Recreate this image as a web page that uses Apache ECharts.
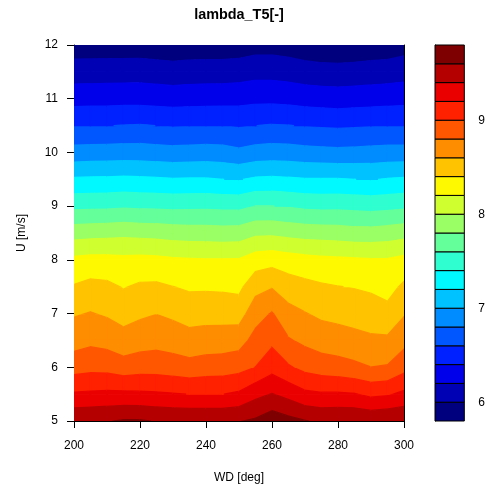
<!DOCTYPE html>
<html>
<head>
<meta charset="utf-8">
<title>lambda_T5[-]</title>
<script src="https://cdn.jsdelivr.net/npm/echarts@6/dist/echarts.min.js"></script>
<style>
  html, body { margin: 0; padding: 0; background: #ffffff; }
  #chart { width: 488px; height: 491px; }
</style>
</head>
<body>
<div id="chart"></div>
<script>
// Grid of wind directions (deg) and wind speeds (m/s)
const wdGrid = [200, 205, 210, 215, 220, 225, 230, 235, 240, 245, 250,
                255, 260, 265, 270, 275, 280, 285, 290, 295, 300];
const uGrid = [5, 5.5, 6, 6.5, 7, 7.5, 8, 8.5, 9, 9.5, 10, 10.5, 11, 11.5, 12];

// lambda_T5 at each wind speed, one value per wind direction in wdGrid
const lambda_U05_0 = [9.57, 9.58, 9.59, 9.62, 9.62, 9.59, 9.58, 9.58, 9.58, 9.58, 9.59, 9.63, 9.72, 9.66, 9.61, 9.57, 9.58, 9.58, 9.56, 9.58, 9.59];
const lambda_U05_5 = [9.225, 9.234, 9.244, 9.244, 9.236, 9.227, 9.212, 9.197, 9.197, 9.197, 9.232, 9.344, 9.409, 9.337, 9.244, 9.223, 9.225, 9.212, 9.155, 9.178, 9.244];
const lambda_U06_0 = [8.915, 8.942, 8.933, 8.887, 8.915, 8.915, 8.895, 8.870, 8.895, 8.903, 8.930, 9.003, 9.128, 9.023, 8.943, 8.901, 8.877, 8.844, 8.802, 8.817, 8.932];
const lambda_U06_5 = [8.721, 8.757, 8.731, 8.676, 8.713, 8.734, 8.709, 8.674, 8.691, 8.697, 8.718, 8.869, 8.955, 8.818, 8.758, 8.709, 8.688, 8.661, 8.633, 8.635, 8.738];
const lambda_U07_0 = [8.581, 8.610, 8.577, 8.525, 8.567, 8.596, 8.562, 8.520, 8.527, 8.524, 8.515, 8.717, 8.814, 8.664, 8.609, 8.562, 8.542, 8.521, 8.501, 8.462, 8.582];
const lambda_U07_5 = [8.415, 8.457, 8.442, 8.388, 8.429, 8.434, 8.402, 8.371, 8.374, 8.368, 8.352, 8.534, 8.585, 8.499, 8.457, 8.425, 8.405, 8.390, 8.368, 8.327, 8.436];
const lambda_U08_0 = [8.243, 8.262, 8.262, 8.247, 8.256, 8.248, 8.227, 8.218, 8.213, 8.213, 8.215, 8.299, 8.326, 8.291, 8.266, 8.246, 8.236, 8.226, 8.216, 8.215, 8.255];
const lambda_U08_5 = [7.914, 7.926, 7.935, 7.947, 7.935, 7.926, 7.909, 7.898, 7.895, 7.888, 7.893, 7.958, 7.961, 7.935, 7.914, 7.907, 7.898, 7.879, 7.879, 7.898, 7.926];
const lambda_U09_0 = [7.551, 7.555, 7.560, 7.572, 7.563, 7.560, 7.551, 7.555, 7.560, 7.551, 7.548, 7.603, 7.603, 7.584, 7.558, 7.548, 7.551, 7.541, 7.529, 7.541, 7.560];
const lambda_U09_5 = [7.224, 7.231, 7.233, 7.240, 7.233, 7.225, 7.213, 7.217, 7.217, 7.201, 7.191, 7.228, 7.237, 7.226, 7.213, 7.212, 7.213, 7.201, 7.191, 7.212, 7.225];
const lambda_U10_0 = [6.876, 6.883, 6.887, 6.893, 6.893, 6.881, 6.872, 6.877, 6.886, 6.877, 6.843, 6.881, 6.893, 6.886, 6.869, 6.859, 6.851, 6.857, 6.867, 6.877, 6.877];
const lambda_U10_5 = [6.595, 6.596, 6.596, 6.606, 6.613, 6.599, 6.585, 6.592, 6.599, 6.599, 6.580, 6.599, 6.613, 6.606, 6.588, 6.578, 6.570, 6.578, 6.588, 6.596, 6.599];
const lambda_U11_0 = [6.320, 6.324, 6.326, 6.332, 6.329, 6.320, 6.313, 6.318, 6.322, 6.323, 6.332, 6.348, 6.348, 6.337, 6.318, 6.308, 6.299, 6.308, 6.315, 6.324, 6.333];
const lambda_U11_5 = [6.100, 6.102, 6.106, 6.106, 6.111, 6.098, 6.084, 6.095, 6.101, 6.102, 6.111, 6.132, 6.132, 6.115, 6.090, 6.075, 6.070, 6.077, 6.090, 6.101, 6.119];
const lambda_U12_0 = [5.890, 5.890, 5.890, 5.890, 5.890, 5.880, 5.870, 5.880, 5.880, 5.880, 5.890, 5.922, 5.922, 5.903, 5.874, 5.856, 5.850, 5.860, 5.875, 5.880, 5.918];

const lambdaRows = [lambda_U05_0, lambda_U05_5, lambda_U06_0, lambda_U06_5, lambda_U07_0,
                    lambda_U07_5, lambda_U08_0, lambda_U08_5, lambda_U09_0, lambda_U09_5,
                    lambda_U10_0, lambda_U10_5, lambda_U11_0, lambda_U11_5, lambda_U12_0];

// Contour levels and the fill colour of each band between them
const levels = [5.8, 6.0, 6.2, 6.4, 6.6, 6.8, 7.0, 7.2, 7.4, 7.6, 7.8,
                8.0, 8.2, 8.4, 8.6, 8.8, 9.0, 9.2, 9.4, 9.6, 9.8];
const bandColors = ['#00007F', '#0000B5', '#0000EB', '#0021FF', '#0057FF',
                    '#008CFF', '#00C2FF', '#00F8FF', '#2FFFD0', '#64FF9A',
                    '#9AFF64', '#D0FF2F', '#FFF900', '#FFC300', '#FF8D00',
                    '#FF5700', '#FF2100', '#EB0000', '#B50000', '#7F0000'];
const colorbarTicks = [6, 7, 8, 9];

const FONT = '"Liberation Sans", Arial, Helvetica, sans-serif';

// One item per grid cell: its corners and the four corner values
const cells = [];
for (let j = 0; j < uGrid.length - 1; j++) {
  for (let i = 0; i < wdGrid.length - 1; i++) {
    cells.push([wdGrid[i], uGrid[j], wdGrid[i + 1], uGrid[j + 1],
                lambdaRows[j][i], lambdaRows[j][i + 1],
                lambdaRows[j + 1][i + 1], lambdaRows[j + 1][i]]);
  }
}

// Clip a polygon (with values linear along its edges) to v >= level or v <= level
function clipPoly(poly, level, keepAbove) {
  const out = [];
  const n = poly.length;
  for (let k = 0; k < n; k++) {
    const a = poly[k], b = poly[(k + 1) % n];
    const ina = keepAbove ? a.v >= level : a.v <= level;
    const inb = keepAbove ? b.v >= level : b.v <= level;
    if (ina) out.push(a);
    if (ina !== inb) {
      const t = (level - a.v) / (b.v - a.v);
      out.push({ x: a.x + t * (b.x - a.x), y: a.y + t * (b.y - a.y), v: level });
    }
  }
  return out;
}

function renderCell(params, api) {
  const x0 = api.value(0), y0 = api.value(1), x1 = api.value(2), y1 = api.value(3);
  const quad = [
    { x: x0, y: y0, v: api.value(4) },
    { x: x1, y: y0, v: api.value(5) },
    { x: x1, y: y1, v: api.value(6) },
    { x: x0, y: y1, v: api.value(7) }
  ];
  const children = [];
  for (let k = 0; k < bandColors.length; k++) {
    let poly = clipPoly(quad, levels[k], true);
    if (poly.length < 3) continue;
    poly = clipPoly(poly, levels[k + 1], false);
    if (poly.length < 3) continue;
    const pts = poly.map(p => api.coord([p.x, p.y]));
    children.push({
      type: 'polygon',
      shape: { points: pts },
      style: { fill: bandColors[k], stroke: bandColors[k], lineWidth: 1.2 }
    });
  }
  return { type: 'group', children: children };
}

function renderBand(params, api) {
  const lo = api.value(0), hi = api.value(1);
  const p0 = api.coord([0, lo]);
  const p1 = api.coord([1, hi]);
  return {
    type: 'rect',
    shape: { x: p0[0], y: p1[1], width: p1[0] - p0[0], height: p0[1] - p1[1] },
    style: { fill: bandColors[params.dataIndex], stroke: '#000000', lineWidth: 1 }
  };
}

const chart = echarts.init(document.getElementById('chart'), null, { renderer: 'canvas' });

const axisText = { color: '#000000', fontFamily: FONT, fontSize: 12 };

chart.setOption({
  backgroundColor: '#ffffff',
  animation: false,
  textStyle: { fontFamily: FONT },
  grid: [
    { left: 74, top: 45, width: 330, height: 376, show: false },
    { left: 435, top: 45, width: 31, height: 376, show: false }
  ],
  graphic: [
    { type: 'text', x: 239, y: 15, z: 10,
      style: { text: 'lambda_T5[-]', font: 'bold 14.4px ' + FONT, fill: '#000000',
               textAlign: 'center', textVerticalAlign: 'middle' } }
  ],
  xAxis: [
    { gridIndex: 0, type: 'value', min: 200, max: 300, interval: 20,
      name: 'WD [deg]', nameLocation: 'middle', nameGap: 51,
      nameTextStyle: axisText,
      axisLine: { show: true, lineStyle: { color: '#000000', width: 1 } },
      axisTick: { show: true, length: 7, lineStyle: { color: '#000000' } },
      axisLabel: Object.assign({ margin: 19 }, axisText),
      splitLine: { show: false } },
    { gridIndex: 0, type: 'value', min: 200, max: 300, position: 'top',
      axisLine: { show: true, lineStyle: { color: '#000000', width: 1 } },
      axisTick: { show: false }, axisLabel: { show: false }, splitLine: { show: false } },
    { gridIndex: 1, type: 'value', min: 0, max: 1, show: false }
  ],
  yAxis: [
    { gridIndex: 0, type: 'value', min: 5, max: 12, interval: 1,
      name: 'U [m/s]', nameLocation: 'middle', nameGap: 46, nameRotate: 90,
      nameTextStyle: axisText,
      axisLine: { show: true, lineStyle: { color: '#000000', width: 1 } },
      axisTick: { show: true, length: 7, lineStyle: { color: '#000000' } },
      axisLabel: Object.assign({ margin: 16 }, axisText),
      splitLine: { show: false } },
    { gridIndex: 0, type: 'value', min: 5, max: 12, position: 'right',
      axisLine: { show: true, lineStyle: { color: '#000000', width: 1 } },
      axisTick: { show: false }, axisLabel: { show: false }, splitLine: { show: false } },
    { gridIndex: 1, type: 'value', min: 5.8, max: 9.8, position: 'right',
      axisLine: { show: true, lineStyle: { color: '#000000', width: 1 } },
      axisTick: { show: true, length: 7, customValues: colorbarTicks,
                  lineStyle: { color: '#000000' } },
      axisLabel: Object.assign({ margin: 14, customValues: colorbarTicks }, axisText),
      splitLine: { show: false } }
  ],
  series: [
    { type: 'custom', xAxisIndex: 0, yAxisIndex: 0, clip: true, silent: true,
      renderItem: renderCell, data: cells,
      encode: { x: [0, 2], y: [1, 3] } },
    { type: 'custom', xAxisIndex: 2, yAxisIndex: 2, silent: true,
      renderItem: renderBand,
      data: bandColors.map((c, k) => [levels[k], levels[k + 1]]),
      encode: { y: [0, 1] } }
  ]
});
</script>
</body>
</html>
